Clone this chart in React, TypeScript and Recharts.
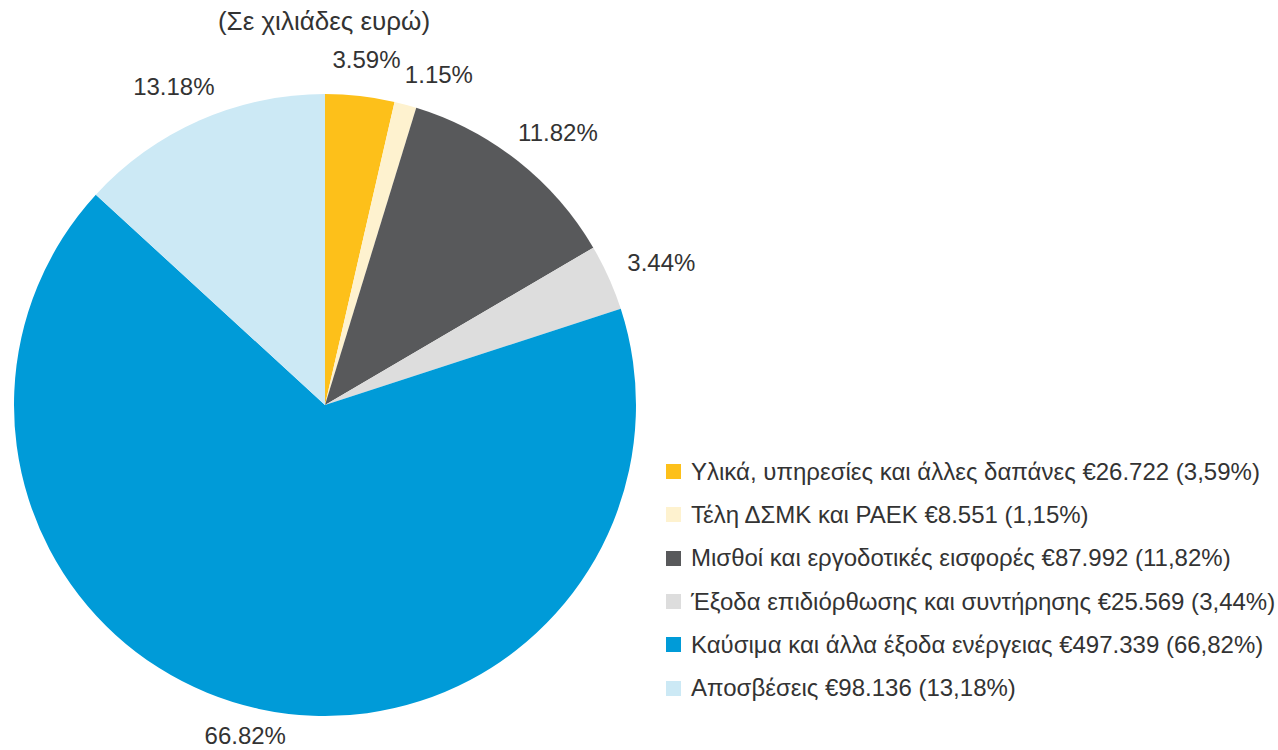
import React from 'react';
import { PieChart, Pie, Cell, Legend } from 'recharts';

const categories = [
  'Υλικά, υπηρεσίες και άλλες δαπάνες',
  'Τέλη ΔΣΜΚ και ΡΑΕΚ',
  'Μισθοί και εργοδοτικές εισφορές',
  'Έξοδα επιδιόρθωσης και συντήρησης',
  'Καύσιμα και άλλα έξοδα ενέργειας',
  'Αποσβέσεις',
];
const amounts = [26722, 8551, 87992, 25569, 497339, 98136];
const amountLabels = ['€26.722', '€8.551', '€87.992', '€25.569', '€497.339', '€98.136'];
const percentLabels = ['3.59%', '1.15%', '11.82%', '3.44%', '66.82%', '13.18%'];
const legendPercents = ['3,59%', '1,15%', '11,82%', '3,44%', '66,82%', '13,18%'];
const colors = ['#FDC01A', '#FEF2CF', '#58595B', '#DDDDDD', '#009BD8', '#CCE9F5'];

const data = categories.map((name, i) => ({ name, value: amounts[i] }));

const FONT = '"Liberation Sans", Arial, Helvetica, sans-serif';
const RAD = Math.PI / 180;
const LABEL_SIZE = 24;

// label boxes, worked out once for all slices so later labels can step
// clockwise around the pie when they would overlap an earlier one
let labelCache: { key: string; pos: { x: number; y: number }[] } | null = null;

function layoutLabels(cx: number, cy: number, outerRadius: number) {
  const key = `${cx}-${cy}-${outerRadius}`;
  if (labelCache && labelCache.key === key) return labelCache.pos;
  const total = amounts.reduce((a, b) => a + b, 0);
  const boxes: { x0: number; x1: number; y0: number; y1: number }[] = [];
  const pos: { x: number; y: number }[] = [];
  let acc = 0;
  amounts.forEach((v, i) => {
    let theta = ((acc + v / 2) / total) * 360; // clockwise from 12 o'clock
    acc += v;
    const w = percentLabels[i].length * 13.5;
    const h = 26;
    const place = (t: number) => {
      const s = Math.sin(t * RAD);
      const c = Math.cos(t * RAD);
      const r = outerRadius + 18;
      const ax = cx + r * s;
      const ay = cy - r * c;
      const x = ax + (w / 2 + 6) * s;
      const y = ay - 19 * c * (c > 0 ? 1 : 0.5);
      return { x, y, box: { x0: x - w / 2, x1: x + w / 2, y0: y - h / 2, y1: y + h / 2 } };
    };
    let p = place(theta);
    const hit = (b: any) =>
      boxes.some((o) => b.x0 < o.x1 && b.x1 > o.x0 && b.y0 < o.y1 && b.y1 > o.y0);
    let guard = 0;
    while (hit(p.box) && guard < 60) {
      theta += 1;
      p = place(theta);
      guard++;
    }
    boxes.push(p.box);
    pos.push({ x: p.x, y: p.y });
  });
  labelCache = { key, pos };
  return pos;
}

const renderLabel = (props: any) => {
  const { cx, cy, outerRadius, index } = props;
  const p = layoutLabels(cx, cy, outerRadius)[index];
  return (
    <text
      x={p.x}
      y={p.y}
      textAnchor="middle"
      dominantBaseline="central"
      fill="#333"
      fontSize={LABEL_SIZE}
      fontFamily={FONT}
    >
      {percentLabels[index]}
    </text>
  );
};

const renderLegend = () => (
  <div style={{ fontFamily: FONT, fontSize: 24, color: '#333' }}>
    {categories.map((name, i) => (
      <div key={name} style={{ display: 'flex', alignItems: 'center', height: 43.3 }}>
        <span style={{ width: 15, height: 15, background: colors[i], marginRight: 10, flexShrink: 0 }} />
        <span style={{ whiteSpace: 'nowrap' }}>
          {name} {amountLabels[i]} ({legendPercents[i]})
        </span>
      </div>
    ))}
  </div>
);

export default function App() {
  return (
    <div style={{ position: 'relative', width: 1278, height: 750, background: '#fff', overflow: 'hidden' }}>
      <style>{`body{margin:0}`}</style>
      <div
        style={{
          position: 'absolute',
          left: 0,
          width: 648,
          top: 6,
          textAlign: 'center',
          fontFamily: FONT,
          fontSize: 26,
          color: '#333',
        }}
      >
        (Σε χιλιάδες ευρώ)
      </div>
      <PieChart width={1278} height={750} margin={{ top: 0, right: 0, bottom: 0, left: 0 }}>
        <Pie
          data={data}
          dataKey="value"
          cx={325}
          cy={405}
          outerRadius={311}
          startAngle={90}
          endAngle={-270}
          stroke="none"
          label={renderLabel}
          labelLine={false}
          isAnimationActive={false}
        >
          {data.map((d, i) => (
            <Cell key={d.name} fill={colors[i]} />
          ))}
        </Pie>
        <Legend
          content={renderLegend}
          layout="vertical"
          wrapperStyle={{ left: 666, top: 450, width: 612 }}
        />
      </PieChart>
    </div>
  );
}
